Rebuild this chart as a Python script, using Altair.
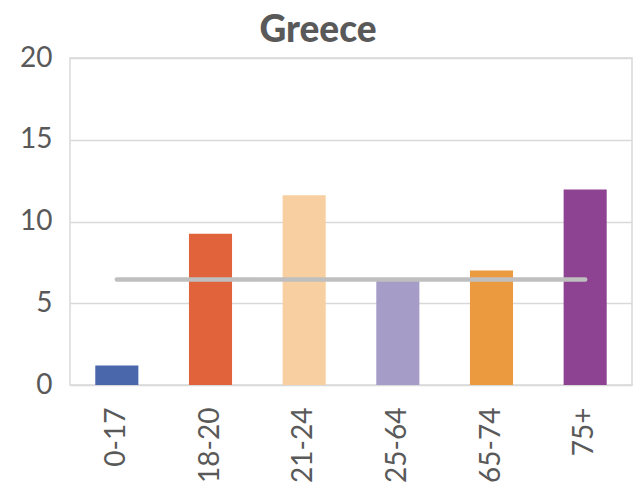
import altair as alt
import pandas as pd

categories = ["0-17", "18-20", "21-24", "25-64", "65-74", "75+"]
values = [1.2, 9.25, 11.6, 6.4, 7.0, 11.95]
average = [6.45, 6.45, 6.45, 6.45, 6.45, 6.45]
colors = ["#4a67ac", "#e0633b", "#f7cfa1", "#a59dc8", "#ec9a40", "#8e4392"]

df = pd.DataFrame({"age": categories, "value": values, "avg": average})

x = alt.X("age:N", sort=categories, title=None,
          scale=alt.Scale(paddingInner=0.54, paddingOuter=0.27),
          axis=alt.Axis(labelAngle=-90, labelAlign="right", labelBaseline="middle",
                        labelFontSize=28, labelColor="#595959", labelFont="Lato",
                        labelPadding=22, domain=False, ticks=False, grid=False))

bars = alt.Chart(df).mark_bar().encode(
    x=x,
    y=alt.Y("value:Q", title=None,
            scale=alt.Scale(domain=[0, 20]),
            axis=alt.Axis(values=[0, 5, 10, 15, 20], labelFontSize=28, labelColor="#595959",
                          labelFont="Lato", labelPadding=18, domain=False, ticks=False,
                          gridColor="#d9d9d9", gridWidth=1.5)),
    color=alt.Color("age:N", sort=categories,
                    scale=alt.Scale(domain=categories, range=colors), legend=None),
)

line = alt.Chart(df).mark_line(color="#bfbfbf", strokeWidth=4.5, strokeCap="round").encode(
    x=alt.X("age:N", sort=categories),
    y=alt.Y("avg:Q"),
)

chart = alt.layer(bars, line).properties(
    width=562, height=327,
    autosize=alt.AutoSizeParams(type="none"),
    padding={"left": 62, "top": 50, "right": 1, "bottom": 102},
    title=alt.TitleParams("Greece", fontSize=37, font="Lato", fontWeight=900,
                          color="#595959", anchor="middle", dx=-33, offset=-6),
).configure_view(stroke="#d9d9d9", strokeWidth=1.5)

chart.save("out.html", embed_options={"renderer": "svg", "actions": False})
